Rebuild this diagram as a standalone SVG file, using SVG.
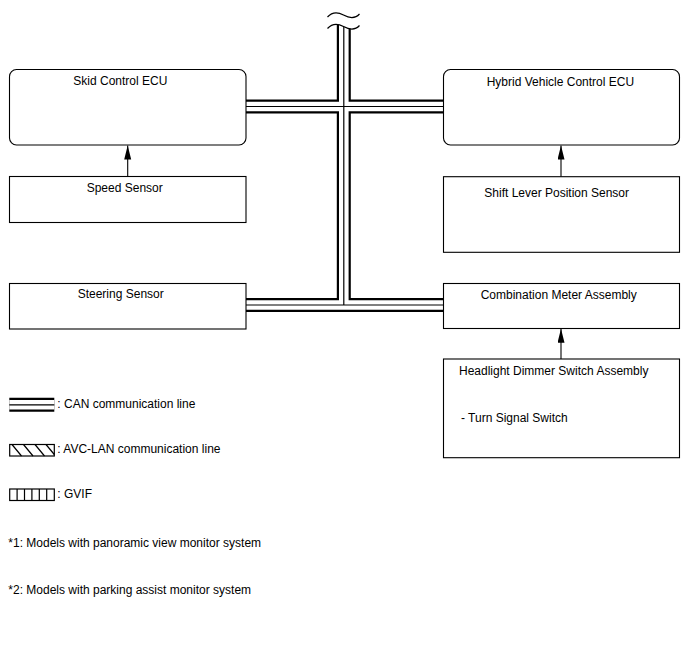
<svg xmlns="http://www.w3.org/2000/svg" width="688" height="658" viewBox="0 0 688 658">
<style>
  text { font-family: "Liberation Sans", Arial, sans-serif; font-size: 12px; fill: #000; }
  .box { fill: #fff; stroke: #000; stroke-width: 1.1; }
  .busB { fill: none; stroke: #000; stroke-width: 14; }
  .busW { fill: none; stroke: #fff; stroke-width: 9.6; }
  .busT { fill: none; stroke: #000; stroke-width: 1.2; }
  .arrow { fill: none; stroke: #000; stroke-width: 1.1; marker-end: url(#ah); }
  .wave { fill: none; stroke: #000; stroke-width: 1.2; }
  .leg { fill: #fff; stroke: #000; stroke-width: 1.2; }
  .hatch { stroke: #000; stroke-width: 1.2; }
</style>
<defs>
  <marker id="ah" markerUnits="userSpaceOnUse" markerWidth="14" markerHeight="8" refX="14" refY="3.5" orient="auto">
    <path d="M0,0 L14,3.5 L0,7 Z" fill="#000"/>
  </marker>
  <clipPath id="clipTop">
    <path d="M300,28.5 L327.5,28.5 C332,23.5 338,23.5 343.5,26.5 S355,30.5 359.5,25.5 L400,25.5 L400,330 L300,330 Z"/>
  </clipPath>
</defs>
<rect width="688" height="658" fill="#fff"/>

<g id="connectors">
  <g clip-path="url(#clipTop)">
    <path class="busB" d="M343.8,20 V305"/>
  </g>
  <path class="busB" d="M245,106.5 H443.3"/>
  <path class="busB" d="M245,305 H443.3"/>
  <g clip-path="url(#clipTop)">
    <path class="busW" d="M343.8,20 V305"/>
  </g>
  <path class="busW" d="M245,106.5 H443.3"/>
  <path class="busW" d="M245,305 H443.3"/>
  <g clip-path="url(#clipTop)">
    <path class="busT" d="M343.8,20 V305"/>
  </g>
  <path class="busT" d="M245,106.5 H443.3"/>
  <path class="busT" d="M245,305 H443.3"/>
  <path class="wave" d="M327.5,17 C332,12 338,12 343.5,15 S355,19 359.5,14"/>
  <path class="wave" d="M327.5,28.5 C332,23.5 338,23.5 343.5,26.5 S355,30.5 359.5,25.5"/>
  <path class="arrow" d="M127.7,176 V145.5"/>
  <path class="arrow" d="M561,176.7 V145.5"/>
  <path class="arrow" d="M561,359 V328.8"/>
</g>

<g id="skid-control-ecu">
  <rect class="box" x="9.5" y="69.5" width="236.5" height="75.5" rx="7" ry="7"/>
  <text x="73.3" y="85">Skid Control ECU</text>
</g>
<g id="speed-sensor">
  <rect class="box" x="9.5" y="176.5" width="236.5" height="46"/>
  <text x="86.7" y="191.5">Speed Sensor</text>
</g>
<g id="steering-sensor">
  <rect class="box" x="9.5" y="283.5" width="236.5" height="45.5"/>
  <text x="77.7" y="297.5">Steering Sensor</text>
</g>
<g id="hybrid-vehicle-control-ecu">
  <rect class="box" x="443.5" y="69.5" width="236" height="75.5" rx="7" ry="7"/>
  <text x="486.7" y="86">Hybrid Vehicle Control ECU</text>
</g>
<g id="shift-lever-position-sensor">
  <rect class="box" x="443.5" y="176.7" width="236" height="75.6"/>
  <text x="484.3" y="197">Shift Lever Position Sensor</text>
</g>
<g id="combination-meter-assembly">
  <rect class="box" x="443.5" y="283.5" width="236" height="45"/>
  <text x="480.7" y="298.5">Combination Meter Assembly</text>
</g>
<g id="headlight-dimmer-switch-assembly">
  <rect class="box" x="443.5" y="359" width="236" height="98.7"/>
  <text x="459" y="374.5">Headlight Dimmer Switch Assembly</text>
  <text x="461" y="422">- Turn Signal Switch</text>
</g>

<g id="legend">
  <path class="busB" d="M9.3,404.8 H54.3"/>
  <path class="busW" d="M9.3,404.8 H54.3"/>
  <path class="busT" d="M9.3,404.8 H54.3"/>
  <text x="57.3" y="407.5">: CAN communication line</text>

  <rect class="leg" x="9.7" y="444.5" width="44.6" height="11.5"/>
  <path class="hatch" d="M12,444.5 L21.5,456 M23.5,444.5 L33,456 M35,444.5 L44.5,456 M46,444.5 L54.3,454.5"/>
  <text x="57.3" y="452.5">: AVC-LAN communication line</text>

  <rect class="leg" x="9.7" y="489" width="44.6" height="11.5"/>
  <path class="hatch" d="M17.1,489 V500.5 M24.5,489 V500.5 M31.9,489 V500.5 M39.3,489 V500.5 M46.7,489 V500.5"/>
  <text x="57.3" y="497.5">: GVIF</text>
</g>

<g id="notes">
  <text x="8.3" y="547">*1: Models with panoramic view monitor system</text>
  <text x="8.3" y="594">*2: Models with parking assist monitor system</text>
</g>
</svg>
